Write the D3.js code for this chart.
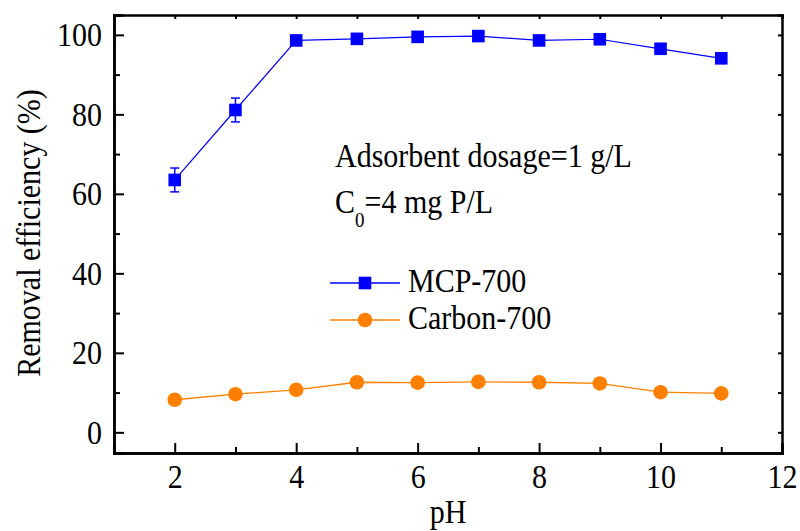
<!DOCTYPE html>
<html>
<head>
<meta charset="utf-8">
<script src="https://cdn.jsdelivr.net/npm/d3@7"></script>
<style>
  body { margin: 0; background: #fff; }
  text { font-family: "Liberation Serif", "Times New Roman", serif; }
</style>
</head>
<body>
<div id="chart"></div>
<script>
// data
const pH = [2, 3, 4, 5, 6, 7, 8, 9, 10, 11];
const mcp700 = [63.5, 81.1, 98.6, 99.0, 99.5, 99.7, 98.6, 98.9, 96.5, 94.1];
const mcp700Err = [3.0, 3.0, 0, 0, 0, 0, 0, 0, 0, 0];
const carbon700 = [8.2, 9.6, 10.7, 12.6, 12.5, 12.7, 12.6, 12.3, 10.1, 9.8];
const xTicks = [2, 4, 6, 8, 10, 12];
const xMinor = [3, 5, 7, 9, 11];
const yTicks = [0, 20, 40, 60, 80, 100];
const yMinor = [10, 30, 50, 70, 90];

const W = 800, H = 531;
const margin = { top: 15, right: 18, bottom: 78, left: 114 };
const width = W - margin.left - margin.right;
const height = H - margin.top - margin.bottom;

const svg = d3.select("#chart").append("svg")
    .attr("width", W).attr("height", H);
const g = svg.append("g")
    .attr("transform", `translate(${margin.left},${margin.top})`);

const x = d3.scaleLinear().domain([1, 12]).range([0, width]);
const y = d3.scaleLinear().domain([-5.2, 105]).range([height, 0]);

const fs = 30;
const sy = 1.13; // text in the original is a bit taller than wide

// put a text at (tx, ty) with the vertical stretch
function place(sel, tx, ty) {
    return sel.attr("transform", `translate(${tx},${ty}) scale(1,${sy})`);
}

// axes, ticks pointing inward
const gx = g.append("g").attr("transform", `translate(0,${height})`)
    .call(d3.axisBottom(x).tickValues(xTicks).tickSize(-10).tickPadding(10).tickFormat(d3.format("d")));
gx.append("g").call(d3.axisBottom(x).tickValues(xMinor).tickSize(-6).tickFormat(""));
const gy = g.append("g")
    .call(d3.axisLeft(y).tickValues(yTicks).tickSize(-10).tickPadding(12).tickFormat(d3.format("d")));
gy.append("g").call(d3.axisLeft(y).tickValues(yMinor).tickSize(-6).tickFormat(""));

// top and right frame
g.append("g")
    .call(d3.axisTop(x).tickValues(xTicks.concat(xMinor)).tickSize(-4).tickFormat(""));
g.append("g").attr("transform", `translate(${width},0)`)
    .call(d3.axisRight(y).tickValues(yTicks.concat(yMinor)).tickSize(-4).tickFormat(""));

g.selectAll(".domain").attr("stroke", "#000").attr("stroke-width", 2.5);
g.selectAll(".tick line").attr("stroke", "#000").attr("stroke-width", 2);
g.selectAll(".tick text")
    .style("font-family", "'Liberation Serif', serif")
    .style("font-size", fs + "px")
    .attr("fill", "#000")
    .attr("transform", `scale(1,${sy})`);

// axis titles
place(svg.append("text"), margin.left + x(6.5), 523)
    .attr("text-anchor", "middle")
    .style("font-size", fs + "px")
    .text("pH");
svg.append("text")
    .attr("transform", `translate(40,233) rotate(-90) scale(1,${sy})`)
    .attr("text-anchor", "middle")
    .style("font-size", fs + "px")
    .text("Removal efficiency (%)");

const blue = "#0000ff", orange = "#ff7f00";

const line = d3.line().x((d, i) => x(pH[i])).y(d => y(d));

// Carbon-700
g.append("path").datum(carbon700)
    .attr("fill", "none").attr("stroke", orange).attr("stroke-width", 1.3)
    .attr("d", line);
g.selectAll(".carbon").data(carbon700).enter().append("circle")
    .attr("cx", (d, i) => x(pH[i])).attr("cy", d => y(d))
    .attr("r", 7.3).attr("fill", orange);

// MCP-700
g.append("path").datum(mcp700)
    .attr("fill", "none").attr("stroke", blue).attr("stroke-width", 1.2)
    .attr("d", line);
const err = g.selectAll(".err").data(mcp700.map((v, i) => ({ x: pH[i], v, e: mcp700Err[i] })).filter(d => d.e > 0))
    .enter().append("g").attr("stroke", blue).attr("stroke-width", 1.5);
err.append("line")
    .attr("x1", d => x(d.x)).attr("x2", d => x(d.x))
    .attr("y1", d => y(d.v + d.e)).attr("y2", d => y(d.v - d.e));
err.append("line")
    .attr("x1", d => x(d.x) - 4.5).attr("x2", d => x(d.x) + 4.5)
    .attr("y1", d => y(d.v + d.e)).attr("y2", d => y(d.v + d.e));
err.append("line")
    .attr("x1", d => x(d.x) - 4.5).attr("x2", d => x(d.x) + 4.5)
    .attr("y1", d => y(d.v - d.e)).attr("y2", d => y(d.v - d.e));
g.selectAll(".mcp").data(mcp700).enter().append("rect")
    .attr("x", (d, i) => x(pH[i]) - 6.3).attr("y", d => y(d) - 6.3)
    .attr("width", 12.6).attr("height", 12.6).attr("fill", blue);

// annotation
const note = svg.append("g").style("font-size", fs + "px");
place(note.append("text"), 335, 167).text("Adsorbent dosage=1 g/L");
const c0 = place(note.append("text"), 335, 213);
c0.append("tspan").text("C");
c0.append("tspan").attr("dy", 12).style("font-size", "19px").text("0");
c0.append("tspan").attr("dy", -12).text("=4 mg P/L");

// legend
const legend = svg.append("g");
const items = [
    { name: "MCP-700", color: blue, shape: "square", y: 283 },
    { name: "Carbon-700", color: orange, shape: "circle", y: 320 }
];
items.forEach(it => {
    legend.append("line").attr("x1", 330).attr("x2", 400)
        .attr("y1", it.y).attr("y2", it.y)
        .attr("stroke", it.color).attr("stroke-width", 1.3);
    if (it.shape === "square") {
        legend.append("rect").attr("x", 365 - 6.3).attr("y", it.y - 6.3)
            .attr("width", 12.6).attr("height", 12.6).attr("fill", it.color);
    } else {
        legend.append("circle").attr("cx", 365).attr("cy", it.y).attr("r", 7.3).attr("fill", it.color);
    }
    place(legend.append("text"), 408, it.y + 8.5)
        .style("font-size", fs + "px").text(it.name);
});
</script>
</body>
</html>
